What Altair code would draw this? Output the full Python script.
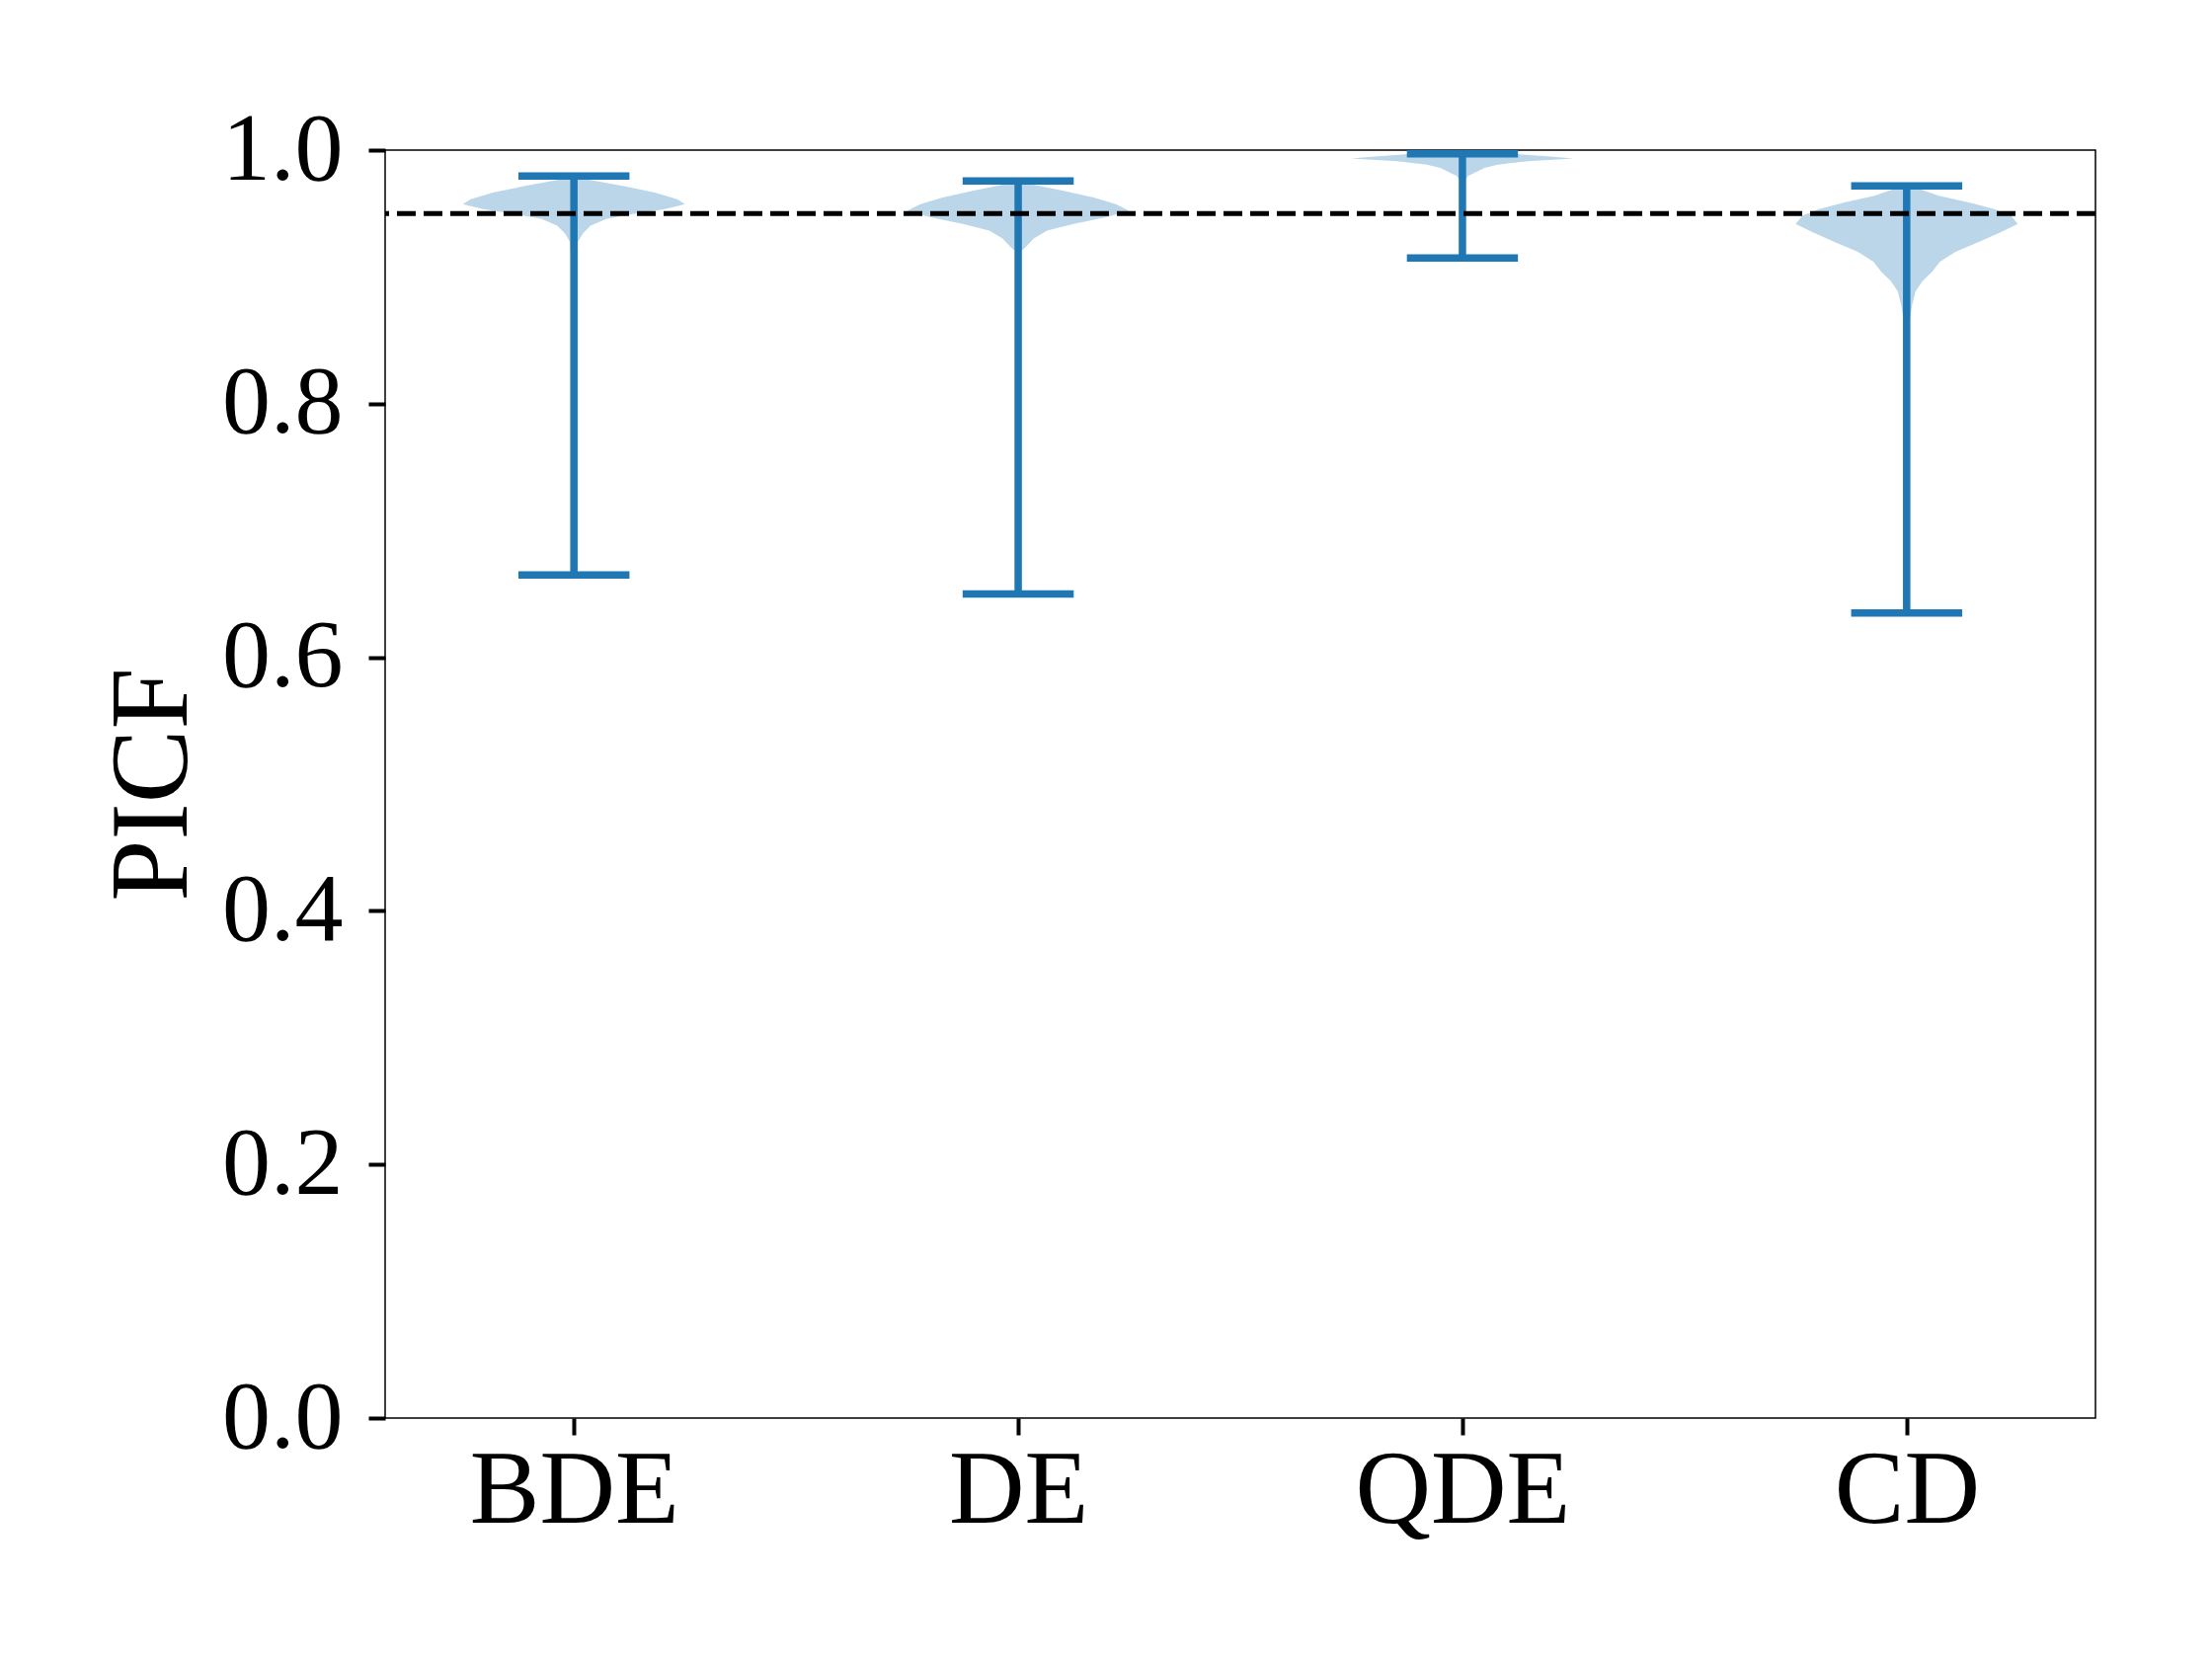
import altair as alt
import pandas as pd

methods = ["BDE", "DE", "QDE", "CD"]
positions = [1, 2, 3, 4]
mins = [0.665, 0.650, 0.915, 0.635]
maxs = [0.9795, 0.9756, 0.9971, 0.9717]
reference_level = 0.95
y_ticks = [0.0, 0.2, 0.4, 0.6, 0.8, 1.0]

# violin profiles: values and relative half-widths (1 = widest)
bde_values = [0.665, 0.75, 0.85, 0.90, 0.9276, 0.9341, 0.9405, 0.9457, 0.9496, 0.9535,
              0.9574, 0.9613, 0.9665, 0.9717, 0.9769, 0.9795]
bde_widths = [0.0, 0.004, 0.01, 0.02, 0.035, 0.08, 0.15, 0.29, 0.53, 0.82,
              1.0, 0.93, 0.73, 0.44, 0.125, 0.03]

de_values = [0.650, 0.75, 0.85, 0.90, 0.9198, 0.9237, 0.9302, 0.9366, 0.9418, 0.9470,
             0.9522, 0.9574, 0.9626, 0.9678, 0.9730, 0.9756]
de_widths = [0.0, 0.004, 0.01, 0.018, 0.02, 0.07, 0.14, 0.26, 0.5, 0.79,
             1.0, 0.88, 0.68, 0.41, 0.125, 0.03]

qde_values = [0.915, 0.94, 0.96, 0.9769, 0.9795, 0.9821, 0.9860, 0.9886, 0.9912,
              0.9933, 0.9951, 0.9971]
qde_widths = [0.0, 0.005, 0.01, 0.03, 0.05, 0.11, 0.2, 0.32, 0.59,
              1.0, 0.76, 0.45]

cd_values = [0.635, 0.70, 0.78, 0.82, 0.8523, 0.8653, 0.8782, 0.8887, 0.8965, 0.9042,
             0.9120, 0.9198, 0.9276, 0.9354, 0.9418, 0.9483, 0.9535, 0.9587, 0.9639,
             0.9691, 0.9717]
cd_widths = [0.0, 0.003, 0.006, 0.01, 0.015, 0.027, 0.05, 0.08, 0.14, 0.23,
             0.3, 0.44, 0.65, 0.85, 1.0, 0.94, 0.79, 0.56, 0.29,
             0.125, 0.03]

profiles = {
    "BDE": (bde_values, bde_widths),
    "DE": (de_values, de_widths),
    "QDE": (qde_values, qde_widths),
    "CD": (cd_values, cd_widths),
}

rows = []
for m, p in zip(methods, positions):
    vals, wids = profiles[m]
    for v, w in zip(vals, wids):
        rows.append({"method": m, "pos": p, "value": v, "w": w})
violin_df = pd.DataFrame(rows)

stats_df = pd.DataFrame({"method": methods, "pos": positions, "vmin": mins, "vmax": maxs})

BLUE = "#1f77b4"
label_expr = "datum.value == 1 ? 'BDE' : datum.value == 2 ? 'DE' : datum.value == 3 ? 'QDE' : 'CD'"

x_scale = alt.Scale(domain=[0.575, 4.425], nice=False, zero=False)
y_scale = alt.Scale(domain=[0, 1], nice=False, zero=False)

x_axis = alt.Axis(values=positions, labelExpr=label_expr, title=None, grid=False, domain=False,
                  tickSize=17, tickWidth=4, tickColor="black", labelFontSize=106,
                  labelFont="Liberation Serif", labelColor="black", labelPadding=4,
                  labelAngle=0, labelLimit=0)
y_axis = alt.Axis(values=y_ticks, format=".1f", title="PICF", grid=False, domain=False,
                  tickSize=17, tickWidth=4, tickColor="black", labelFontSize=98,
                  labelFont="Liberation Serif", labelColor="black", labelPadding=26,
                  labelLimit=0,
                  titleFont="Liberation Serif", titleFontSize=112, titleFontWeight="normal",
                  titleColor="black", titleAngle=-90, titleX=-202, titleY=642,
                  titleAlign="center", titleBaseline="alphabetic")

base_v = alt.Chart(violin_df).transform_calculate(
    xl="datum.pos - 0.25 * datum.w", xr="datum.pos + 0.25 * datum.w"
)
violins = base_v.mark_area(orient="horizontal", color=BLUE, opacity=0.3).encode(
    x=alt.X("xl:Q", scale=x_scale, axis=x_axis),
    x2="xr:Q",
    y=alt.Y("value:Q", scale=y_scale, axis=y_axis),
    detail="method:N",
)

base_s = alt.Chart(stats_df).transform_calculate(
    cl="datum.pos - 0.125", cr="datum.pos + 0.125"
)
stems = base_s.mark_rule(color=BLUE, strokeWidth=7.5).encode(
    x=alt.X("pos:Q", scale=x_scale), y=alt.Y("vmin:Q", scale=y_scale), y2="vmax:Q"
)
min_bars = base_s.mark_rule(color=BLUE, strokeWidth=7.5).encode(
    x=alt.X("cl:Q", scale=x_scale), x2="cr:Q", y=alt.Y("vmin:Q", scale=y_scale)
)
max_bars = base_s.mark_rule(color=BLUE, strokeWidth=7.5).encode(
    x=alt.X("cl:Q", scale=x_scale), x2="cr:Q", y=alt.Y("vmax:Q", scale=y_scale)
)

ref_df = pd.DataFrame({"level": [reference_level]})
ref_line = alt.Chart(ref_df).mark_rule(color="black", strokeWidth=5, strokeDash=[19, 8]).encode(
    y=alt.Y("level:Q", scale=y_scale)
)

chart = alt.layer(violins, stems, min_bars, max_bars, ref_line).properties(
    width=1732, height=1284,
    background="white",
    autosize=alt.AutoSizeParams(type="none"),
    padding={"left": 382, "top": 144, "right": 100, "bottom": 230},
).configure_view(stroke="black", strokeWidth=1.5)

chart.save("out.html", embed_options={"renderer": "svg", "actions": False})
